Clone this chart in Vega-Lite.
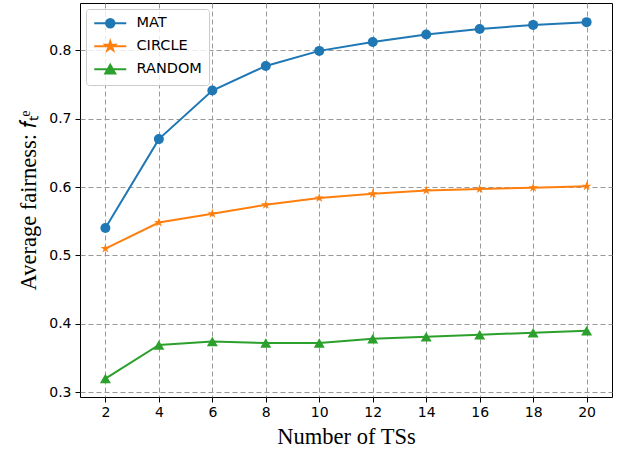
{
  "$schema": "https://vega.github.io/schema/vega-lite/v6.json",
  "autosize": "none",
  "width": 532,
  "height": 394,
  "padding": {"left": 80, "top": 3, "right": 9, "bottom": 56},
  "background": "white",
  "config": {
    "view": {"stroke": "black", "strokeWidth": 1},
    "axis": {
      "domain": false,
      "grid": true,
      "gridColor": "#999999",
      "gridDash": [5, 3],
      "gridWidth": 1,
      "tickColor": "black",
      "tickSize": 5,
      "tickWidth": 1,
      "labelFont": "DejaVu Sans",
      "labelFontSize": 14,
      "labelColor": "black",
      "titleFont": "Liberation Serif",
      "titleFontSize": 22.5,
      "titleFontWeight": "normal",
      "titleColor": "black"
    }
  },
  "data": {
    "values": [
      {"x": 2, "v": 0.540, "s": "MAT"},
      {"x": 4, "v": 0.670, "s": "MAT"},
      {"x": 6, "v": 0.741, "s": "MAT"},
      {"x": 8, "v": 0.777, "s": "MAT"},
      {"x": 10, "v": 0.799, "s": "MAT"},
      {"x": 12, "v": 0.812, "s": "MAT"},
      {"x": 14, "v": 0.823, "s": "MAT"},
      {"x": 16, "v": 0.831, "s": "MAT"},
      {"x": 18, "v": 0.837, "s": "MAT"},
      {"x": 20, "v": 0.841, "s": "MAT"},
      {"x": 2, "v": 0.510, "s": "CIRCLE"},
      {"x": 4, "v": 0.548, "s": "CIRCLE"},
      {"x": 6, "v": 0.561, "s": "CIRCLE"},
      {"x": 8, "v": 0.574, "s": "CIRCLE"},
      {"x": 10, "v": 0.584, "s": "CIRCLE"},
      {"x": 12, "v": 0.590, "s": "CIRCLE"},
      {"x": 14, "v": 0.595, "s": "CIRCLE"},
      {"x": 16, "v": 0.597, "s": "CIRCLE"},
      {"x": 18, "v": 0.599, "s": "CIRCLE"},
      {"x": 20, "v": 0.601, "s": "CIRCLE"},
      {"x": 2, "v": 0.320, "s": "RANDOM"},
      {"x": 4, "v": 0.369, "s": "RANDOM"},
      {"x": 6, "v": 0.374, "s": "RANDOM"},
      {"x": 8, "v": 0.372, "s": "RANDOM"},
      {"x": 10, "v": 0.372, "s": "RANDOM"},
      {"x": 12, "v": 0.378, "s": "RANDOM"},
      {"x": 14, "v": 0.381, "s": "RANDOM"},
      {"x": 16, "v": 0.384, "s": "RANDOM"},
      {"x": 18, "v": 0.387, "s": "RANDOM"},
      {"x": 20, "v": 0.390, "s": "RANDOM"}
    ]
  },
  "encoding": {
    "x": {
      "field": "x",
      "type": "quantitative",
      "scale": {"domain": [1.05, 20.95], "nice": false, "zero": false},
      "axis": {"values": [2, 4, 6, 8, 10, 12, 14, 16, 18, 20], "title": "Number of TSs", "labelPadding": 3, "titlePadding": 6}
    },
    "y": {
      "field": "v",
      "type": "quantitative",
      "scale": {"domain": [0.293, 0.869], "nice": false, "zero": false},
      "axis": {"values": [0.3, 0.4, 0.5, 0.6, 0.7, 0.8], "format": ".1f", "title": "Average fairness: 𝑓ₜᵉ", "labelPadding": 4, "titlePadding": 8}
    }
  },
  "layer": [
    {
      "mark": {"type": "line", "strokeWidth": 2},
      "encoding": {
        "color": {
          "field": "s",
          "type": "nominal",
          "scale": {"domain": ["MAT", "CIRCLE", "RANDOM"], "range": ["#1f77b4", "#ff7f0e", "#2ca02c"]},
          "legend": {
            "title": null,
            "orient": "top-left",
            "offset": 6,
            "padding": 7,
            "fillColor": "rgba(255,255,255,0.8)",
            "strokeColor": "#cccccc",
            "cornerRadius": 3,
            "labelFont": "DejaVu Sans",
            "labelFontSize": 14.5,
            "labelColor": "black",
            "symbolSize": 100,
            "symbolStrokeWidth": 2,
            "symbolOffset": 10,
            "labelOffset": 19,
            "rowPadding": 5,
            "encode": {
              "symbols": {
                "update": {
                  "shape": {"signal": "datum.value === 'MAT' ? 'M-3.2,0L3.2,0M0.85,0A0.85,0.85,0,1,1,-0.85,0A0.85,0.85,0,1,1,0.85,0Z' : datum.value === 'CIRCLE' ? 'M-3.2,0L3.2,0M0,-1L0.2245,-0.309L0.951,-0.309L0.363,0.118L0.588,0.809L0,0.382L-0.588,0.809L-0.363,0.118L-0.951,-0.309L-0.2245,-0.309Z' : 'M-3.2,0L3.2,0M0,-0.9L-1,0.85L1,0.85Z'"},
                  "fill": {"scale": "color", "field": "value"},
                  "stroke": {"scale": "color", "field": "value"},
                  "strokeWidth": {"value": 2},
                  "fillOpacity": {"value": 1},
                  "opacity": {"value": 1}
                }
              }
            }
          }
        }
      }
    },
    {
      "transform": [{"filter": "datum.s === 'MAT'"}],
      "mark": {"type": "point", "filled": true, "opacity": 1, "shape": "circle", "size": 100, "color": "#1f77b4"}
    },
    {
      "transform": [{"filter": "datum.s === 'CIRCLE'"}],
      "mark": {"type": "point", "filled": true, "opacity": 1, "size": 100, "color": "#ff7f0e", "shape": "M0,-1L0.2245,-0.309L0.951,-0.309L0.363,0.118L0.588,0.809L0,0.382L-0.588,0.809L-0.363,0.118L-0.951,-0.309L-0.2245,-0.309Z"}
    },
    {
      "transform": [{"filter": "datum.s === 'RANDOM'"}],
      "mark": {"type": "point", "filled": true, "opacity": 1, "shape": "triangle-up", "size": 120, "color": "#2ca02c"}
    }
  ]
}
